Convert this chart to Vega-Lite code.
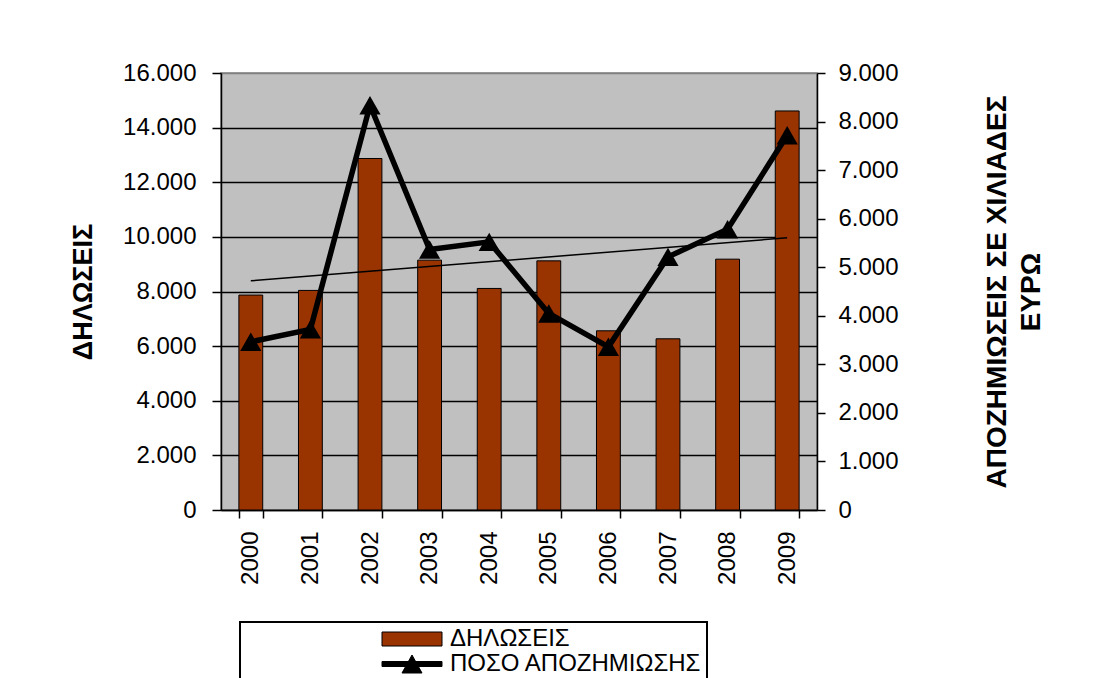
{
  "$schema": "https://vega.github.io/schema/vega-lite/v6.json",
  "width": 596,
  "height": 437,
  "autosize": {"type": "none"},
  "padding": {"left": 221, "top": 73, "right": 283, "bottom": 168},
  "background": "white",
  "config": {
    "font": "Liberation Sans",
    "locale": {"number": {"decimal": ",", "thousands": ".", "grouping": [3], "currency": ["", " €"]}},
    "view": {"fill": "#C0C0C0", "stroke": "#808080", "strokeWidth": 1.5},
    "axis": {
      "labelFont": "Liberation Sans", "labelFontSize": 24, "labelColor": "black",
      "titleFont": "Liberation Sans", "titleFontSize": 27, "titleFontWeight": "bold", "titleColor": "black",
      "domainColor": "black", "domainWidth": 1.5, "tickColor": "black", "tickWidth": 1.5
    }
  },
  "data": {
    "values": [
      {"year": 2000, "dil": 7870, "poso": 3464},
      {"year": 2001, "dil": 8040, "poso": 3719},
      {"year": 2002, "dil": 12870, "poso": 8335},
      {"year": 2003, "dil": 9148, "poso": 5365},
      {"year": 2004, "dil": 8112, "poso": 5522},
      {"year": 2005, "dil": 9122, "poso": 4048},
      {"year": 2006, "dil": 6561, "poso": 3361},
      {"year": 2007, "dil": 6268, "poso": 5213},
      {"year": 2008, "dil": 9184, "poso": 5783},
      {"year": 2009, "dil": 14610, "poso": 7718}
    ]
  },
  "encoding": {
    "x": {
      "field": "year", "type": "ordinal",
      "scale": {"paddingInner": 0.6, "paddingOuter": 0.3},
      "axis": {"title": null, "labelAngle": -90, "tickBand": "extent", "tickSize": 8, "labelPadding": 13, "grid": false}
    }
  },
  "layer": [
    {
      "encoding": {
        "y": {
          "field": "dil", "type": "quantitative",
          "scale": {"domain": [0, 16000], "nice": false, "zero": true},
          "axis": {
            "orient": "left",
            "values": [0, 2000, 4000, 6000, 8000, 10000, 12000, 14000, 16000],
            "format": ",d",
            "title": "ΔΗΛΩΣΕΙΣ",
            "titlePadding": 25,
            "tickSize": 9,
            "labelPadding": 16,
            "grid": true,
            "gridColor": {"condition": {"test": "datum.value == 16000", "value": "#808080"}, "value": "black"},
            "gridWidth": 1.3
          }
        }
      },
      "layer": [
        {
          "mark": {"type": "bar", "stroke": "black", "strokeWidth": 1},
          "encoding": {
            "color": {
              "datum": "ΔΗΛΩΣΕΙΣ",
              "scale": {"domain": ["ΔΗΛΩΣΕΙΣ", "ΠΟΣΟ ΑΠΟΖΗΜΙΩΣΗΣ"], "range": ["#993300", "black"]},
              "legend": {
                "title": " ",
                "titleOrient": "left",
                "titleFontSize": 11,
                "titlePadding": 135,
                "orient": "none",
                "legendX": 19,
                "legendY": 549,
                "direction": "vertical",
                "padding": 5,
                "strokeColor": "black",
                "fillColor": "white",
                "labelFont": "Liberation Sans",
                "labelFontSize": 24,
                "labelColor": "black",
                "labelOffset": 46,
                "labelLimit": 500,
                "rowPadding": 1,
                "symbolSize": 400,
                "symbolStrokeColor": "black",
                "symbolStrokeWidth": 1,
                "encode": {
                  "symbols": {
                    "update": {
                      "shape": {"signal": "datum.value == 'ΔΗΛΩΣΕΙΣ' ? 'M-1,-0.7H5V0.7H-1Z' : 'M-1,-0.25H5V0.25H-1Z M2,-0.9L3,0.9H1Z'"},
                      "stroke": {"value": "black"},
                      "strokeWidth": {"value": 1}
                    }
                  },
                  "legend": {"update": {"strokeWidth": {"value": 2}}}
                }
              }
            }
          }
        },
        {
          "transform": [{"regression": "dil", "on": "year"}],
          "mark": {"type": "line", "color": "black", "strokeWidth": 1.5},
          "encoding": {}
        }
      ]
    },
    {
      "mark": {
        "type": "line", "color": "black", "strokeWidth": 5.5,
        "point": {"shape": "triangle-up", "size": 450, "filled": true, "fill": "black", "opacity": 1}
      },
      "encoding": {
        "y": {
          "field": "poso", "type": "quantitative",
          "scale": {"domain": [0, 9000], "nice": false, "zero": true},
          "axis": {
            "orient": "right",
            "values": [0, 1000, 2000, 3000, 4000, 5000, 6000, 7000, 8000, 9000],
            "format": ",d",
            "title": ["ΑΠΟΖΗΜΙΩΣΕΙΣ ΣΕ ΧΙΛΙΑΔΕΣ", "ΕΥΡΩ"],
            "titleFontSize": 28,
            "titleAngle": -90,
            "titleBaseline": "top",
            "titleLineHeight": 34,
            "titlePadding": 51,
            "tickSize": 8,
            "labelPadding": 13,
            "grid": false,
            "encode": {"ticks": {"update": {"x": {"value": -8}}}}
          }
        }
      }
    }
  ],
  "resolve": {"scale": {"y": "independent"}}
}
